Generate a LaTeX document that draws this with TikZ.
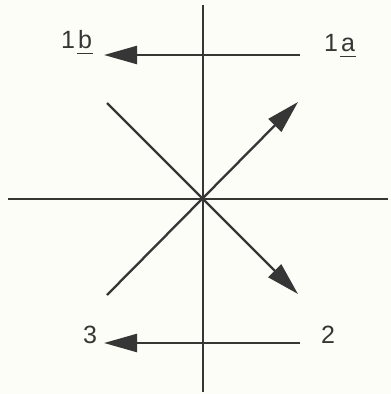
\documentclass[tikz,border=0pt]{standalone}
\usepackage{fontspec}
\setmainfont{Liberation Sans}
\usetikzlibrary{arrows.meta}
\definecolor{ink}{HTML}{363636}
\definecolor{paper}{HTML}{FDFDF7}
\newcommand{\ulet}[1]{\makebox[0pt][l]{\hspace*{-1pt}\raisebox{-6pt}{\rule{16pt}{1.4pt}}}#1}
\tikzset{
  axis/.style={draw=ink, line width=2.1pt},
  vec/.style={draw=ink, line width=2.3pt, -{Triangle[length=33pt,width=18pt]}},
  lbl/.style={text=ink, font=\fontsize{25}{25}\selectfont, inner sep=0pt, anchor=base west}
}
\begin{document}
\begin{tikzpicture}[x=1pt,y=-1pt]
\fill[paper] (0,0) rectangle (391,394);
\useasboundingbox (0,0) rectangle (391,394);
% axes
\coordinate (vt) at (203,5);
\coordinate (vb) at (203,392);
\coordinate (hl) at (8,199);
\coordinate (hr) at (388,199);
\draw[axis] (vt) -- (vb);
\draw[axis] (hl) -- (hr);
% diagonals
\coordinate (ll) at (107,295);
\coordinate (ur) at (298,102);
\coordinate (ul) at (107,103);
\coordinate (lr) at (298,294);
\draw[vec] (ll) -- (ur);
\draw[vec] (ul) -- (lr);
% horizontal arrows
\coordinate (ta) at (300,55);
\coordinate (tb) at (104,55);
\coordinate (ba) at (300,343);
\coordinate (bb) at (104,343);
\draw[vec] (ta) -- (tb);
\draw[vec] (ba) -- (bb);
% labels
\node[lbl] (l1b) at (61,48) {1\hspace{3pt}\ulet{b}};
\node[lbl] (l1a) at (324,51) {1\hspace{3pt}\ulet{a}};
\node[lbl] (l3) at (83,343) {3};
\node[lbl] (l2) at (321,343) {2};
\end{tikzpicture}
\end{document}
